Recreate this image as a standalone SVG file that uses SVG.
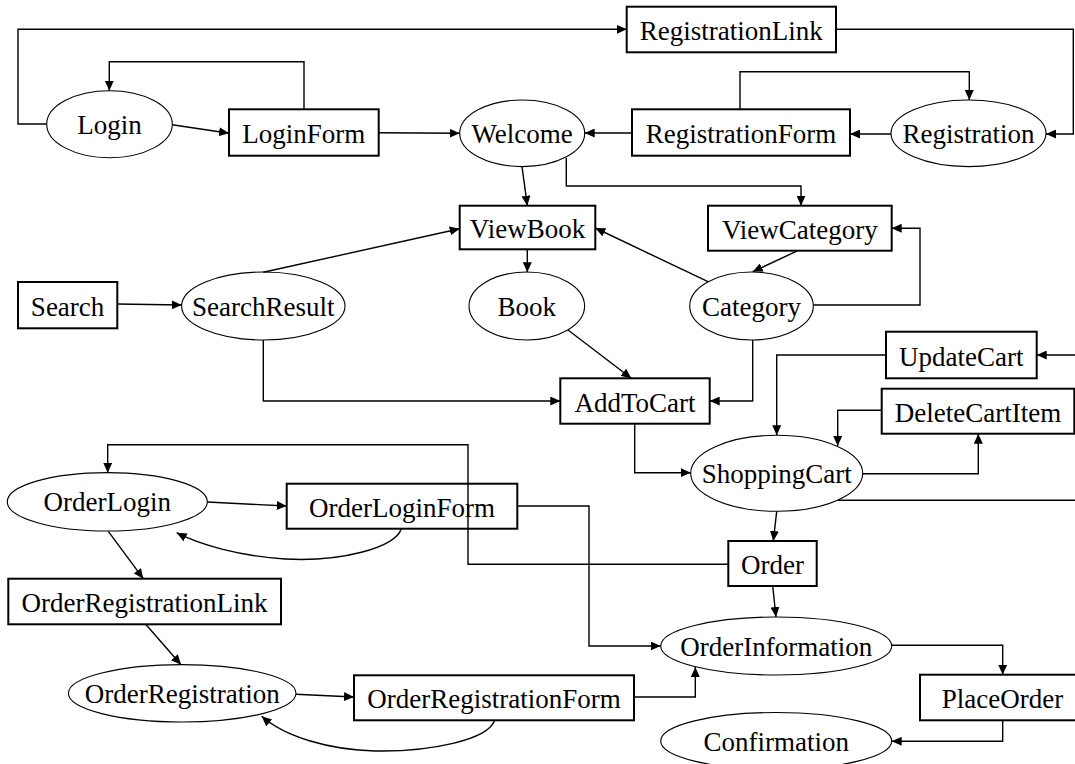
<svg xmlns="http://www.w3.org/2000/svg" width="1075" height="764" viewBox="0 0 1075 764">
<style>
.n rect{fill:#fff;stroke:#000;stroke-width:2}
.n ellipse{fill:#fff;stroke:#000;stroke-width:1.1}
.n text{font-family:"Liberation Serif","Times New Roman",serif;font-size:27px;text-anchor:middle;fill:#000}
#edges path{fill:none;stroke:#000;stroke-width:1.4}
#edges path.a{marker-end:url(#arr)}
</style>
<defs>
<marker id="arr" markerUnits="userSpaceOnUse" markerWidth="11" markerHeight="9" refX="10" refY="4.5" orient="auto"><path d="M0,0 L10,4.5 L0,9 z" fill="#000"/></marker>
</defs>
<rect width="1075" height="764" fill="#fff"/>
<g id="Login" class="n"><ellipse cx="109.5" cy="124.2" rx="62.8" ry="33.5"/><text x="109.5" y="133.5">Login</text></g>
<g id="LoginForm" class="n"><rect x="229" y="109.3" width="149.7" height="46.4"/><text x="303.8" y="143">LoginForm</text></g>
<g id="Welcome" class="n"><ellipse cx="522.2" cy="133.3" rx="62.5" ry="33.3"/><text x="522.2" y="143">Welcome</text></g>
<g id="RegistrationLink" class="n"><rect x="626.7" y="6.7" width="209.3" height="45.6"/><text x="731.3" y="40">RegistrationLink</text></g>
<g id="RegistrationForm" class="n"><rect x="632" y="109.3" width="218" height="46.4"/><text x="741" y="143">RegistrationForm</text></g>
<g id="Registration" class="n"><ellipse cx="968.5" cy="133.3" rx="77.5" ry="33.3"/><text x="968.5" y="143">Registration</text></g>
<g id="ViewBook" class="n"><rect x="459.7" y="205.7" width="135.6" height="43.6"/><text x="527.5" y="238">ViewBook</text></g>
<g id="ViewCategory" class="n"><rect x="708" y="205.7" width="183.7" height="45"/><text x="799.8" y="238.7">ViewCategory</text></g>
<g id="Search" class="n"><rect x="18" y="282" width="99.3" height="46.3"/><text x="67.6" y="315.5">Search</text></g>
<g id="SearchResult" class="n"><ellipse cx="263.3" cy="306" rx="81.7" ry="34"/><text x="263.3" y="315.5">SearchResult</text></g>
<g id="Book" class="n"><ellipse cx="526.8" cy="306" rx="57.8" ry="34"/><text x="526.8" y="315.5">Book</text></g>
<g id="Category" class="n"><ellipse cx="751.5" cy="306" rx="61.8" ry="34"/><text x="751.5" y="315.5">Category</text></g>
<g id="AddToCart" class="n"><rect x="560.3" y="378.3" width="149.4" height="45.4"/><text x="635" y="411.5">AddToCart</text></g>
<g id="UpdateCart" class="n"><rect x="886" y="331.7" width="150.7" height="46.6"/><text x="961.3" y="365.5">UpdateCart</text></g>
<g id="DeleteCartItem" class="n"><rect x="881.7" y="388.7" width="192.6" height="45"/><text x="978" y="421.5">DeleteCartItem</text></g>
<g id="ShoppingCart" class="n"><ellipse cx="776.7" cy="473.3" rx="86" ry="38"/><text x="776.7" y="483">ShoppingCart</text></g>
<g id="Order" class="n"><rect x="728.3" y="541" width="88.4" height="45"/><text x="772.5" y="574">Order</text></g>
<g id="OrderLogin" class="n"><ellipse cx="107.3" cy="501.8" rx="100" ry="29.2"/><text x="107.3" y="511.3">OrderLogin</text></g>
<g id="OrderLoginForm" class="n"><rect x="286.7" y="483.7" width="230.6" height="45"/><text x="402" y="516.5">OrderLoginForm</text></g>
<g id="OrderRegistrationLink" class="n"><rect x="8.3" y="578.7" width="272.7" height="45.6"/><text x="144.6" y="612">OrderRegistrationLink</text></g>
<g id="OrderInformation" class="n"><ellipse cx="776.2" cy="646" rx="115.5" ry="29"/><text x="776.2" y="655.5">OrderInformation</text></g>
<g id="OrderRegistration" class="n"><ellipse cx="182.2" cy="693.3" rx="113.8" ry="28.7"/><text x="182.2" y="702.8">OrderRegistration</text></g>
<g id="OrderRegistrationForm" class="n"><rect x="354" y="675.3" width="280" height="45"/><text x="494" y="708.3">OrderRegistrationForm</text></g>
<g id="PlaceOrder" class="n"><rect x="920" y="674.7" width="165" height="45.6"/><text x="1002.5" y="708">PlaceOrder</text></g>
<g id="Confirmation" class="n"><ellipse cx="776.2" cy="741" rx="115.5" ry="28.5"/><text x="776.2" y="750.5">Confirmation</text></g>
<g id="edges">
<path class="a" d="M46.7,124 H18 V29.3 H626.7"/>
<path class="a" d="M304,109.3 V61.7 H109.3 V90.7"/>
<path class="a" d="M172.3,124.7 L229,133.3"/>
<path class="a" d="M378.7,132.7 L459.7,133.3"/>
<path class="a" d="M836,29.3 H1073.3 V134 H1046"/>
<path class="a" d="M740,109.3 V71.7 H969.3 V100"/>
<path class="a" d="M891,134 H850"/>
<path class="a" d="M632,133 H584.7"/>
<path class="a" d="M522,166.7 L527.3,205.7"/>
<path class="a" d="M566.3,158 V186 H801 V205.7"/>
<path class="a" d="M527.3,249.3 V272.3"/>
<path class="a" d="M263.3,272.3 L459.7,228.7"/>
<path class="a" d="M708,281.7 L595.3,228"/>
<path class="a" d="M797.7,250.7 L752.7,271.7"/>
<path class="a" d="M813.3,305 H920 V228.3 H891.7"/>
<path class="a" d="M117.3,304 L181.7,305"/>
<path class="a" d="M263.3,340 V401 H560.3"/>
<path class="a" d="M568,330 L631.3,378.3"/>
<path class="a" d="M752.7,340 V401 H709.7"/>
<path class="a" d="M1075,355 H1036.7"/>
<path class="a" d="M886,355 H776.7 V435.3"/>
<path class="a" d="M881.7,410.3 H837.7 V446"/>
<path class="a" d="M862.7,473.7 H978.3 V433.7"/>
<path d="M838,500.3 H1075"/>
<path class="a" d="M634.7,423.7 V472.7 H690.7"/>
<path class="a" d="M776.7,511.3 L773.3,541"/>
<path class="a" d="M728.3,564.3 H468 V444.7 H107.7 V472.7"/>
<path class="a" d="M772.7,586 L776,617"/>
<path class="a" d="M207.3,502 L286.7,506"/>
<path class="a" d="M401.3,528.7 C395,548 340,562 285,559 C240,556 200,545 176.7,532.7"/>
<path class="a" d="M517.3,506 H589 V646 H660.7"/>
<path class="a" d="M108.3,531.3 L143.3,578.7"/>
<path class="a" d="M145.7,624.3 L181,664.7"/>
<path class="a" d="M296,694.3 L354,697"/>
<path class="a" d="M494.7,720.3 C488,740 430,752 375,751 C330,750 285,737 261.7,716.3"/>
<path class="a" d="M634,697 H695.3 V667"/>
<path class="a" d="M891.7,645.3 H1002.7 V674.7"/>
<path class="a" d="M1002.7,720.3 V741.3 H891.7"/>
</g>
</svg>
